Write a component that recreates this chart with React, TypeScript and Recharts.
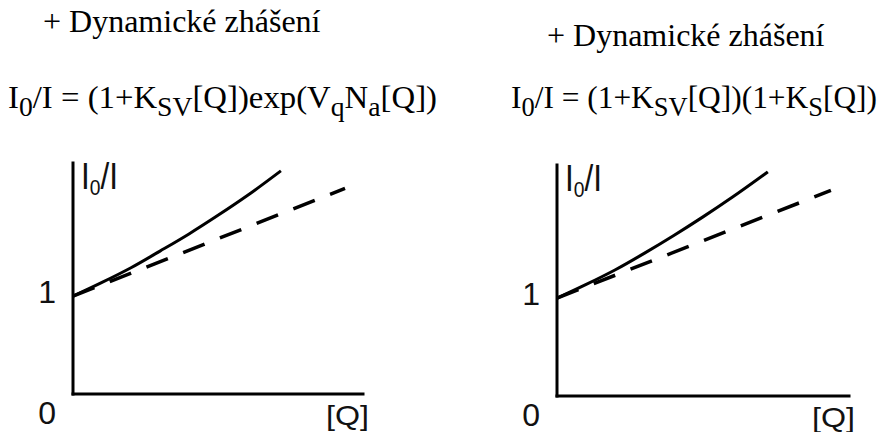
import React from 'react';
import { LineChart, Line, XAxis, YAxis } from 'recharts';

// ---- data ----
const panelTitles = ['+ Dynamické zhášení', '+ Dynamické zhášení'];

type Seg = { t: string; sub?: boolean };
const formulaLeft: Seg[] = [
  { t: 'I' }, { t: '0', sub: true }, { t: '/I = (1+K' }, { t: 'SV', sub: true },
  { t: '[Q])exp(V' }, { t: 'q', sub: true }, { t: 'N' }, { t: 'a', sub: true }, { t: '[Q])' },
];
const formulaRight: Seg[] = [
  { t: 'I' }, { t: '0', sub: true }, { t: '/I = (1+K' }, { t: 'SV', sub: true },
  { t: '[Q])(1+K' }, { t: 'S', sub: true }, { t: '[Q])' },
];
const yAxisTitle: Seg[] = [{ t: 'I' }, { t: '0', sub: true }, { t: '/I' }];
const xAxisTitle = '[Q]';
const yTicks = [0, 1];
const yMax = 2.36;

const solidQLeft = [0, 0.1, 0.2, 0.3, 0.4, 0.5, 0.6, 0.717];
const solidLeft = [1.0, 1.14, 1.29, 1.46, 1.635, 1.825, 2.025, 2.28];
const dashedQLeft = [0, 0.938];
const dashedLeft = [1.0, 2.1];

const solidQRight = [0, 0.1, 0.2, 0.3, 0.4, 0.5, 0.6, 0.722];
const solidRight = [1.0, 1.14, 1.29, 1.46, 1.64, 1.83, 2.03, 2.29];
const dashedQRight = [0, 0.938];
const dashedRight = [1.0, 2.1];

const SERIF = '"Liberation Serif", "Times New Roman", serif';
const SANS = '"Liberation Sans", Arial, sans-serif';

function SegText({ x, y, segs, size, subSize, subDrop, family, fill = '#000', length }: any) {
  let offset = 0;
  const nodes = segs.map((s: Seg, i: number) => {
    const target = s.sub ? subDrop : 0;
    const dy = target - offset;
    offset = target;
    return (
      <tspan key={i} dy={dy} fontSize={s.sub ? subSize : size}>
        {s.t}
      </tspan>
    );
  });
  const extra: any = length ? { textLength: length, lengthAdjust: 'spacingAndGlyphs' } : {};
  return (
    <text x={x} y={y} fontSize={size} fontFamily={family} fill={fill} {...extra}>
      {nodes}
    </text>
  );
}

function Panel({ left, plotLeft, plotRight, plotTop, plotBottom, solidQ, solid, dashedQ, dashed }: any) {
  const W = 440;
  const H = 432;
  const solidData = solid.map((v: number, i: number) => ({ q: solidQ[i], v }));
  const dashedData = dashed.map((v: number, i: number) => ({ q: dashedQ[i], v }));
  const axisStyle = { stroke: '#000', strokeWidth: 3, strokeLinecap: 'square' as const };

  const renderYTick = (p: any) => {
    const val = p.payload.value;
    return (
      <text
        x={p.x - 9}
        y={p.y + (val === 0 ? 19 : -4)}
        textAnchor="end"
        dominantBaseline="central"
        fontSize={32}
        fontFamily={SANS}
        fill="#111"
      >
        {val}
      </text>
    );
  };
  const renderXTick = (p: any) => (
    <text
      x={p.x + 6}
      y={p.y + 13}
      textAnchor="end"
      dominantBaseline="central"
      fontSize={28}
      fontFamily={SANS}
      fill="#111"
      textLength={43}
      lengthAdjust="spacingAndGlyphs"
    >
      {xAxisTitle}
    </text>
  );
  const renderYLabel = (p: any) => {
    const vb = p.viewBox || {};
    return (
      <SegText
        x={vb.x + vb.width + 8}
        y={vb.y + 26}
        segs={yAxisTitle}
        size={36}
        subSize={22}
        subDrop={6}
        family={SANS}
        fill="#111"
        length={37}
      />
    );
  };

  return (
    <div style={{ position: 'absolute', left, top: 0, width: W, height: H }}>
      <LineChart
        width={W}
        height={H}
        margin={{ top: plotTop, left: plotLeft - 60, right: W - plotRight, bottom: H - plotBottom - 30 }}
      >
        <XAxis
          dataKey="q"
          type="number"
          domain={[0, 1]}
          ticks={[1]}
          allowDataOverflow
          height={30}
          tickLine={false}
          axisLine={axisStyle}
          tick={renderXTick}
        />
        <YAxis
          type="number"
          domain={[0, yMax]}
          ticks={yTicks}
          allowDataOverflow
          width={60}
          tickLine={false}
          axisLine={axisStyle}
          tick={renderYTick}
          label={{ content: renderYLabel }}
        />
        <Line
          data={solidData}
          dataKey="v"
          type="monotone"
          stroke="#000"
          strokeWidth={3}
          dot={false}
          activeDot={false}
          isAnimationActive={false}
        />
        <Line
          data={dashedData}
          dataKey="v"
          type="linear"
          stroke="#000"
          strokeWidth={3.5}
          strokeDasharray="23 16.5"
          dot={false}
          activeDot={false}
          isAnimationActive={false}
        />
      </LineChart>
    </div>
  );
}

export default function App() {
  return (
    <div style={{ position: 'absolute', left: 0, top: 0, width: 880, height: 432, background: '#fff', overflow: 'hidden' }}>
      <Panel
        left={0}
        plotLeft={73}
        plotRight={363}
        plotTop={163}
        plotBottom={394}
        solidQ={solidQLeft}
        solid={solidLeft}
        dashedQ={dashedQLeft}
        dashed={dashedLeft}
      />
      <Panel
        left={440}
        plotLeft={117}
        plotRight={409}
        plotTop={165}
        plotBottom={396}
        solidQ={solidQRight}
        solid={solidRight}
        dashedQ={dashedQRight}
        dashed={dashedRight}
      />
      <svg width={880} height={150} style={{ position: 'absolute', left: 0, top: 0, pointerEvents: 'none' }}>
        <text x={43} y={32} fontSize={32} fontFamily={SERIF} fill="#000">
          {panelTitles[0]}
        </text>
        <text x={547} y={46} fontSize={32} fontFamily={SERIF} fill="#000">
          {panelTitles[1]}
        </text>
        <SegText x={8} y={108} segs={formulaLeft} size={32} subSize={27} subDrop={8} family={SERIF} length={429} />
        <SegText x={511} y={108} segs={formulaRight} size={32} subSize={27} subDrop={8} family={SERIF} length={366} />
      </svg>
    </div>
  );
}
